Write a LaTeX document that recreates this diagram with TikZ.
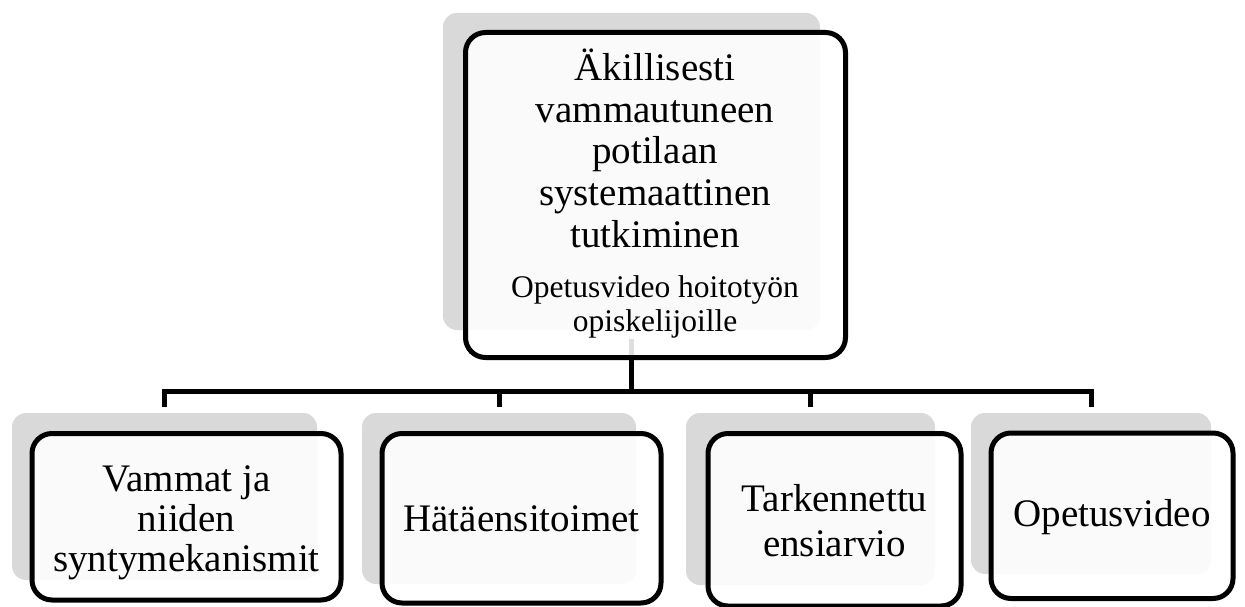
\documentclass[tikz,border=0pt]{standalone}
\usepackage{fontspec}
\setmainfont{Liberation Serif}
\definecolor{shadowgray}{HTML}{D9D9D9}
\begin{document}
\begin{tikzpicture}[x=1pt,y=-1pt,
  shadowbox/.style={draw=none, fill=shadowgray, rounded corners=14pt, inner sep=0pt, outer sep=0pt},
  framebox/.style={draw=black, line width=5pt, fill=white, fill opacity=0.87, rounded corners=20pt, inner sep=0pt, outer sep=0pt},
  lbl/.style={align=center, font=\fontsize{39}{40}\selectfont, inner sep=0pt, text=black},
  conn/.style={draw=black, line width=5pt}]
\useasboundingbox (0,0) rectangle (1245,607);
% shadows
\node[shadowbox, minimum width=377pt, minimum height=317pt] (s0) at (631.5,171.5) {};
\node[shadowbox, minimum width=305pt, minimum height=167pt] (s1) at (164.5,496.5) {};
\node[shadowbox, minimum width=274pt, minimum height=171pt] (s2) at (499,498.5) {};
\node[shadowbox, minimum width=249pt, minimum height=172pt] (s3) at (810.5,499) {};
\node[shadowbox, minimum width=240pt, minimum height=161pt] (s4) at (1091,493.5) {};
% connectors
\coordinate (bus) at (0,391.5);
\coordinate (c0) at ([yshift=-9pt]s0.south);
\draw[conn] (c0) -- (c0 |- bus);
\draw[conn] ([yshift=6pt]s1.north) |- (s4.north |- bus) -- ([yshift=6pt]s4.north);
\draw[conn] ([yshift=6pt]s2.north) -- (s2.north |- bus);
\draw[conn] ([yshift=6pt]s3.north) -- (s3.north |- bus);
% frames
\node[framebox, minimum width=380pt, minimum height=325pt] (f0) at (655.5,195) {};
\node[framebox, minimum width=309pt, minimum height=166.5pt] (f1) at (186.5,516.75) {};
\node[framebox, minimum width=279pt, minimum height=169.5pt] (f2) at (521.5,518.25) {};
\node[framebox, minimum width=253pt, minimum height=172.5pt] (f3) at (834.5,519.75) {};
\node[framebox, minimum width=242pt, minimum height=165.5pt] (f4) at (1112,515.75) {};
% texts
\node[lbl, font=\fontsize{39}{41.6}\selectfont] (t0) at (655,193.5) {Äkillisesti\\vammautuneen\\potilaan\\systemaattinen\\tutkiminen\\[8.4pt]\fontsize{31.5}{34}\selectfont Opetusvideo hoitotyön\\[-7.6pt]\fontsize{31.5}{34}\selectfont opiskelijoille};
\node[lbl] (t1) at (186.5,522.5) {Vammat ja\\niiden\\syntymekanismit};
\node[lbl] (t2) at (521.5,518.5) {Hätäensitoimet};
\node[lbl, font=\fontsize{39}{45}\selectfont] (t3) at (834.5,520.5) {Tarkennettu\\ensiarvio};
\node[lbl] (t4) at (1112,517.5) {Opetusvideo};
\end{tikzpicture}
\end{document}
